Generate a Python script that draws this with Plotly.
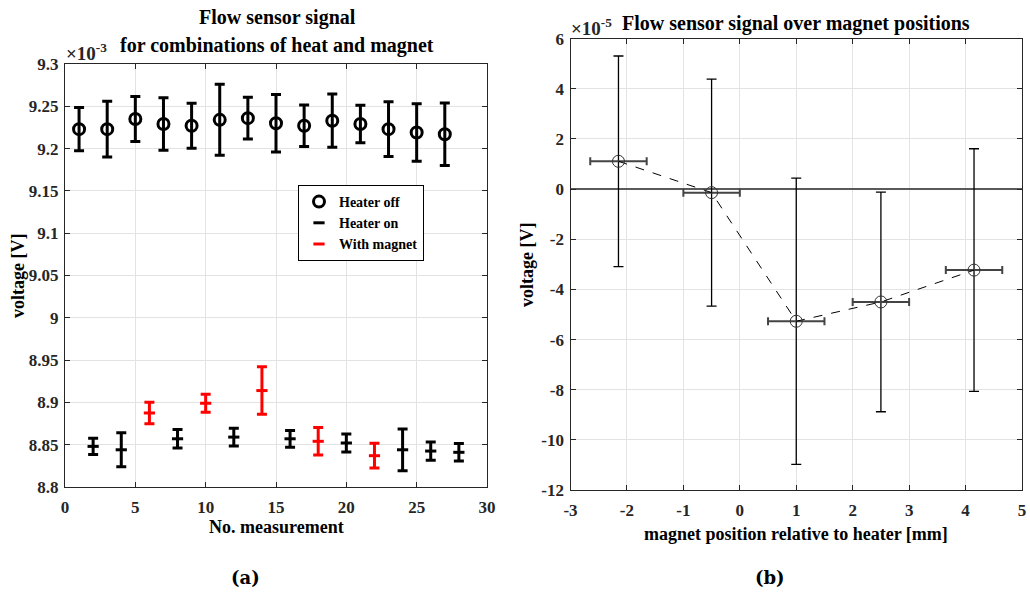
import plotly.graph_objects as go

# ---- (a) flow sensor signal per measurement, values in 1e-3 V ----
off_x = [1, 3, 5, 7, 9, 11, 13, 15, 17, 19, 21, 23, 25, 27]
off_v = [9.223, 9.223, 9.235, 9.229, 9.227, 9.234, 9.236, 9.230, 9.227, 9.233, 9.229, 9.223, 9.219, 9.217]
off_err = [0.0255, 0.033, 0.0265, 0.031, 0.0265, 0.042, 0.0247, 0.034, 0.0245, 0.0314, 0.0222, 0.0324, 0.034, 0.0369]

on_x = [2, 4, 8, 12, 16, 20, 24, 26, 28]
on_v = [8.848, 8.844, 8.857, 8.859, 8.857, 8.852, 8.844, 8.8425, 8.841]
on_err = [0.0095, 0.0201, 0.011, 0.0105, 0.0099, 0.0107, 0.0247, 0.0108, 0.0103]

mag_x = [6, 10, 14, 18, 22]
mag_v = [8.8875, 8.899, 8.914, 8.854, 8.837]
mag_err = [0.0128, 0.0107, 0.028, 0.0162, 0.0146]

a_xticks = [0, 5, 10, 15, 20, 25, 30]
a_yticks = [8.8, 8.85, 8.9, 8.95, 9.0, 9.05, 9.1, 9.15, 9.2, 9.25, 9.3]
a_yticktext = ["8.8", "8.85", "8.9", "8.95", "9", "9.05", "9.1", "9.15", "9.2", "9.25", "9.3"]

# ---- (b) signal over magnet position, values in 1e-5 V ----
pos = [-2.15, -0.5, 1.0, 2.5, 4.15]
pos_err = [0.5, 0.5, 0.5, 0.5, 0.5]
sig = [1.11, -0.14, -5.27, -4.5, -3.23]
sig_err = [4.2, 4.53, 5.71, 4.38, 4.84]

b_xticks = [-3, -2, -1, 0, 1, 2, 3, 4, 5]
b_xticktext = ["-3", "-2", "-1", "0", "1", "2", "3", "4", "5"]
b_yticks = [-12, -10, -8, -6, -4, -2, 0, 2, 4, 6]
b_yticktext = ["-12", "-10", "-8", "-6", "-4", "-2", "0", "2", "4", "6"]

SERIF = "Liberation Serif"
INK = "#262626"
GRID = "#e3e3e3"

fig = go.Figure()

fig.add_trace(go.Scatter(
    x=off_x, y=off_v, mode="markers", name="Heater off",
    marker=dict(symbol="circle-open", size=11, color="black", line=dict(width=3, color="black")),
    error_y=dict(type="data", array=off_err, color="black", thickness=3, width=5),
    xaxis="x", yaxis="y",
))
fig.add_trace(go.Scatter(
    x=on_x, y=on_v, mode="markers", name="Heater on",
    marker=dict(symbol="line-ew", size=8, color="black", line=dict(width=3, color="black")),
    error_y=dict(type="data", array=on_err, color="black", thickness=3, width=5),
    xaxis="x", yaxis="y",
))
fig.add_trace(go.Scatter(
    x=mag_x, y=mag_v, mode="markers", name="With magnet",
    marker=dict(symbol="line-ew", size=8, color="#ff0000", line=dict(width=3, color="#ff0000")),
    error_y=dict(type="data", array=mag_err, color="#ff0000", thickness=3, width=5),
    xaxis="x", yaxis="y",
))

fig.add_trace(go.Scatter(
    x=pos, y=sig, mode="lines+markers", showlegend=False,
    line=dict(color="black", width=1, dash="dash"),
    marker=dict(symbol="circle-open", size=12, color="#333333", line=dict(width=1, color="#333333")),
    error_y=dict(type="data", array=sig_err, color="black", thickness=1.3, width=5),
    error_x=dict(type="data", array=pos_err, color="#444444", thickness=2, width=4),
    xaxis="x2", yaxis="y2",
))

axis_common = dict(
    showline=True, linecolor=INK, linewidth=1.3, mirror="allticks",
    ticks="inside", ticklen=5, tickcolor=INK, tickwidth=1,
    showgrid=True, gridcolor=GRID, gridwidth=1,
    tickfont=dict(family=SERIF, size=17, color=INK, weight="bold"),
)

fig.update_layout(
    width=1030, height=593,
    margin=dict(l=0, r=0, t=0, b=0, pad=0, autoexpand=False),
    paper_bgcolor="white", plot_bgcolor="white",
    font=dict(family=SERIF, color="black", weight="bold"),
    xaxis=dict(domain=[65 / 1030, 487 / 1030], range=[0, 30], tickvals=a_xticks,
               zeroline=False, anchor="y", ticklabelstandoff=4, **axis_common),
    yaxis=dict(domain=[1 - 487 / 593, 1 - 64 / 593], range=[8.8, 9.3], tickvals=a_yticks,
               ticktext=a_yticktext, zeroline=False, anchor="x", ticklabelstandoff=2, **axis_common),
    xaxis2=dict(domain=[570.5 / 1030, 1022 / 1030], range=[-3, 5], tickvals=b_xticks,
                ticktext=b_xticktext, zeroline=False, anchor="y2", ticklabelstandoff=4, **axis_common),
    yaxis2=dict(domain=[1 - 490 / 593, 1 - 38.7 / 593], range=[-12, 6], tickvals=b_yticks,
                ticktext=b_yticktext, zeroline=True, zerolinecolor="#5a5a5a", zerolinewidth=1.5,
                anchor="x2", ticklabelstandoff=2, **axis_common),
    legend=dict(
        x=298 / 1030, y=1 - 185 / 593, xanchor="left", yanchor="top",
        bgcolor="white", bordercolor="black", borderwidth=1,
        font=dict(family=SERIF, size=14, color="black", weight="bold"),
        itemwidth=30, tracegroupgap=0,
    ),
    showlegend=True,
)


def txt(x, y, s, size=19, angle=0, family=SERIF, xanchor="center", yanchor="middle", color="black"):
    fig.add_annotation(
        x=x / 1030, y=1 - y / 593, xref="paper", yref="paper", text=s, showarrow=False,
        textangle=angle, xanchor=xanchor, yanchor=yanchor,
        font=dict(family=family, size=size, color=color, weight="bold"),
    )


# titles
txt(277, 17, "Flow sensor signal", size=20)
txt(277, 46, "for combinations of heat and magnet", size=20)
txt(796, 24, "Flow sensor signal over magnet positions", size=20)

# exponent labels
txt(64, 52, "×10<sup>-3</sup>", size=19, xanchor="left", color=INK)
txt(569, 27, "×10<sup>-5</sup>", size=19, xanchor="left", color=INK)

# axis titles
txt(276, 527, "No. measurement", size=18)
txt(796, 534, "magnet position relative to heater [mm]", size=18)
txt(18, 276, "voltage [V]", size=18, angle=-90)
txt(527, 265, "voltage [V]", size=18, angle=-90)

# panel labels
txt(245, 577, "(a)", size=18, family="DejaVu Serif")
txt(770, 577, "(b)", size=18, family="DejaVu Serif")

fig.write_html("out.html")
